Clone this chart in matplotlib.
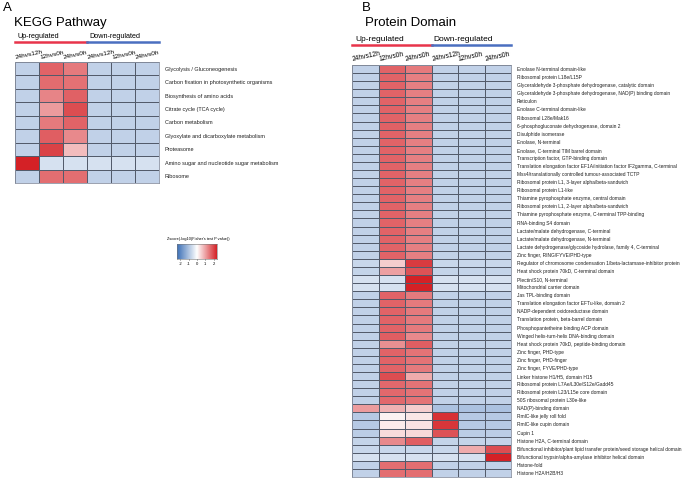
import numpy as np
import matplotlib
matplotlib.use("Agg")
import matplotlib.pyplot as plt
from matplotlib.colors import LinearSegmentedColormap

plt.rcParams['font.family'] = ['Liberation Sans', 'DejaVu Sans']

W, H = 685, 479

columns = ["24hvs12h", "12hvs0h", "24hvs0h", "24hvs12h", "12hvs0h", "24hvs0h"]

kegg_terms = [
    "Glycolysis / Gluconeogenesis",
    "Carbon fixation in photosynthetic organisms",
    "Biosynthesis of amino acids",
    "Citrate cycle (TCA cycle)",
    "Carbon metabolism",
    "Glyoxylate and dicarboxylate metabolism",
    "Proteasome",
    "Amino sugar and nucleotide sugar metabolism",
    "Ribosome",
]
kegg_z = [
    [-0.64, 1.40, 1.20, -0.64, -0.64, -0.64],
    [-0.64, 1.32, 1.28, -0.64, -0.64, -0.64],
    [-0.64, 1.10, 1.42, -0.64, -0.64, -0.64],
    [-0.64, 0.90, 1.60, -0.64, -0.64, -0.64],
    [-0.64, 1.20, 1.40, -0.64, -0.64, -0.64],
    [-0.64, 1.45, 1.05, -0.64, -0.64, -0.64],
    [-0.64, 1.70, 0.60, -0.64, -0.64, -0.64],
    [2.04, -0.41, -0.41, -0.41, -0.41, -0.41],
    [-0.64, 1.30, 1.30, -0.64, -0.64, -0.64],
]

domain_terms = [
    "Enolase N-terminal domain-like",
    "Ribosomal protein L18e/L15P",
    "Glyceraldehyde 3-phosphate dehydrogenase, catalytic domain",
    "Glyceraldehyde 3-phosphate dehydrogenase, NAD(P) binding domain",
    "Reticulon",
    "Enolase C-terminal domain-like",
    "Ribosomal L28e/Mak16",
    "6-phosphogluconate dehydrogenase, domain 2",
    "Disulphide isomerase",
    "Enolase, N-terminal",
    "Enolase, C-terminal TIM barrel domain",
    "Transcription factor, GTP-binding domain",
    "Translation elongation factor EF1A/initiation factor IF2gamma, C-terminal",
    "Mss4/translationally controlled tumour-associated TCTP",
    "Ribosomal protein L1, 3-layer alpha/beta-sandwich",
    "Ribosomal protein L1-like",
    "Thiamine pyrophosphate enzyme, central domain",
    "Ribosomal protein L1, 2-layer alpha/beta-sandwich",
    "Thiamine pyrophosphate enzyme, C-terminal TPP-binding",
    "RNA-binding S4 domain",
    "Lactate/malate dehydrogenase, C-terminal",
    "Lactate/malate dehydrogenase, N-terminal",
    "Lactate dehydrogenase/glycoside hydrolase, family 4, C-terminal",
    "Zinc finger, RING/FYVE/PHD-type",
    "Regulator of chromosome condensation 1/beta-lactamase-inhibitor protein",
    "Heat shock protein 70kD, C-terminal domain",
    "Plectin/S10, N-terminal",
    "Mitochondrial carrier domain",
    "Jas TPL-binding domain",
    "Translation elongation factor EFTu-like, domain 2",
    "NADP-dependent oxidoreductase domain",
    "Translation protein, beta-barrel domain",
    "Phosphopantetheine binding ACP domain",
    "Winged helix-turn-helix DNA-binding domain",
    "Heat shock protein 70kD, peptide-binding domain",
    "Zinc finger, PHD-type",
    "Zinc finger, PHD-finger",
    "Zinc finger, FYVE/PHD-type",
    "Linker histone H1/H5, domain H15",
    "Ribosomal protein L7Ae/L30e/S12e/Gadd45",
    "Ribosomal protein L23/L15e core domain",
    "50S ribosomal protein L30e-like",
    "NAD(P)-binding domain",
    "RmlC-like jelly roll fold",
    "RmlC-like cupin domain",
    "Cupin 1",
    "Histone H2A, C-terminal domain",
    "Bifunctional inhibitor/plant lipid transfer protein/seed storage helical domain",
    "Bifunctional trypsin/alpha-amylase inhibitor helical domain",
    "Histone-fold",
    "Histone H2A/H2B/H3",
]
domain_z = [
    [-0.64, 1.40, 1.20, -0.64, -0.64, -0.64],
    [-0.64, 1.40, 1.15, -0.64, -0.64, -0.64],
    [-0.64, 1.40, 1.15, -0.64, -0.64, -0.64],
    [-0.64, 1.40, 1.15, -0.64, -0.64, -0.64],
    [-0.64, 1.40, 1.15, -0.64, -0.64, -0.64],
    [-0.64, 1.40, 1.15, -0.64, -0.64, -0.64],
    [-0.64, 1.40, 1.15, -0.64, -0.64, -0.64],
    [-0.64, 1.42, 1.15, -0.64, -0.64, -0.64],
    [-0.64, 1.40, 1.15, -0.64, -0.64, -0.64],
    [-0.64, 1.40, 1.15, -0.64, -0.64, -0.64],
    [-0.64, 1.40, 1.15, -0.64, -0.64, -0.64],
    [-0.64, 1.40, 1.15, -0.64, -0.64, -0.64],
    [-0.64, 1.40, 1.15, -0.64, -0.64, -0.64],
    [-0.64, 1.40, 1.15, -0.64, -0.64, -0.64],
    [-0.64, 1.40, 1.15, -0.64, -0.64, -0.64],
    [-0.64, 1.40, 1.15, -0.64, -0.64, -0.64],
    [-0.64, 1.40, 1.15, -0.64, -0.64, -0.64],
    [-0.64, 1.40, 1.15, -0.64, -0.64, -0.64],
    [-0.64, 1.40, 1.15, -0.64, -0.64, -0.64],
    [-0.64, 1.40, 1.15, -0.64, -0.64, -0.64],
    [-0.64, 1.40, 1.15, -0.64, -0.64, -0.64],
    [-0.64, 1.40, 1.15, -0.64, -0.64, -0.64],
    [-0.64, 1.40, 1.15, -0.64, -0.64, -0.64],
    [-0.64, 1.40, 1.15, -0.64, -0.64, -0.64],
    [-0.55, 0.45, 1.75, -0.55, -0.55, -0.55],
    [-0.60, 0.85, 1.55, -0.60, -0.60, -0.60],
    [-0.41, -0.41, 2.04, -0.41, -0.41, -0.41],
    [-0.41, -0.41, 2.04, -0.41, -0.41, -0.41],
    [-0.64, 1.40, 1.20, -0.64, -0.64, -0.64],
    [-0.64, 1.40, 1.20, -0.64, -0.64, -0.64],
    [-0.64, 1.40, 1.20, -0.64, -0.64, -0.64],
    [-0.64, 1.40, 1.20, -0.64, -0.64, -0.64],
    [-0.64, 1.40, 1.20, -0.64, -0.64, -0.64],
    [-0.64, 1.45, 1.05, -0.64, -0.64, -0.64],
    [-0.64, 1.00, 1.45, -0.64, -0.64, -0.64],
    [-0.64, 1.40, 1.25, -0.64, -0.64, -0.64],
    [-0.64, 1.40, 1.25, -0.64, -0.64, -0.64],
    [-0.64, 1.40, 1.20, -0.64, -0.64, -0.64],
    [-0.64, 1.60, 0.75, -0.64, -0.64, -0.64],
    [-0.64, 1.35, 1.25, -0.64, -0.64, -0.64],
    [-0.64, 1.35, 1.25, -0.64, -0.64, -0.64],
    [-0.64, 1.35, 1.25, -0.64, -0.64, -0.64],
    [0.90, 0.70, 0.45, -0.85, -0.85, -0.85],
    [-0.75, 0.12, 0.22, 1.85, -0.75, -0.75],
    [-0.75, 0.18, 0.25, 1.80, -0.75, -0.75],
    [-0.70, 0.32, 0.35, 1.55, -0.70, -0.70],
    [-0.60, 1.05, 1.45, -0.60, -0.60, -0.60],
    [-0.55, -0.55, -0.55, -0.55, 0.75, 1.60],
    [-0.41, -0.41, -0.41, -0.41, -0.41, 2.04],
    [-0.64, 1.30, 1.30, -0.64, -0.64, -0.64],
    [-0.64, 1.30, 1.30, -0.64, -0.64, -0.64],
]

cmap = LinearSegmentedColormap.from_list("bwr_ph", ["#3b6fb6", "#ffffff", "#d42126"])

fig = plt.figure(figsize=(W / 100, H / 100), dpi=100)


def px_axes(x0, y0, x1, y1):
    return fig.add_axes([x0 / W, 1 - y1 / H, (x1 - x0) / W, (y1 - y0) / H])


def heatmap(box, z, terms, row_fs, col_fs, head_fs, title, letter, title_xy, letter_xy):
    x0, y0, x1, y1 = box
    ax = px_axes(x0, y0, x1, y1)
    z = np.array(z)
    ax.pcolormesh(z, cmap=cmap, vmin=-2, vmax=2, edgecolors="#535b6b", linewidth=0.45)
    ax.set_xlim(0, z.shape[1])
    ax.set_ylim(z.shape[0], 0)
    ax.set_xticks([])
    ax.yaxis.tick_right()
    ax.set_yticks(np.arange(z.shape[0]) + 0.5)
    ax.set_yticklabels(terms, fontsize=row_fs, color="#222222")
    ax.tick_params(axis="y", length=0, pad=4)
    for s in ax.spines.values():
        s.set_color("#8a92a2")
        s.set_linewidth(0.6)
    # column labels, slightly tilted
    for i, c in enumerate(columns):
        ax.annotate(c, xy=(i + 0.05, 0), xytext=(0, 1.8), textcoords="offset points",
                    fontsize=col_fs, rotation=12, ha="left", va="bottom",
                    rotation_mode="anchor")
    # group header
    cw = (x1 - x0) / 6
    lx0, lx1 = x0 / W, x1 / W
    mid = (x0 + 3 * cw) / W
    ly = 1 - (y0 - 20) / H
    fig.add_artist(plt.Line2D([lx0, mid], [ly, ly], color="#e8344a", lw=1.8))
    fig.add_artist(plt.Line2D([mid, lx1], [ly, ly], color="#4a6fc0", lw=1.8))
    fig.text(lx0 + 3 / W, ly + 2.5 / H, "Up-regulated", fontsize=head_fs, va="bottom")
    fig.text(mid + 2 / W, ly + 2.5 / H, "Down-regulated", fontsize=head_fs, va="bottom")
    fig.text(title_xy[0] / W, 1 - title_xy[1] / H, title, fontsize=9.5, va="center")
    fig.text(letter_xy[0] / W, 1 - letter_xy[1] / H, letter, fontsize=9.5, va="center")
    return ax


heatmap((15, 62, 159, 183), kegg_z, kegg_terms, 4.0, 4.6, 5.2,
        "KEGG Pathway", "A", (14, 23), (3, 8))
heatmap((352, 65, 511, 477), domain_z, domain_terms, 3.5, 4.8, 6.0,
        "Protein Domain", "B", (365, 23), (362, 8))

# colour key
cax = px_axes(177, 244, 217, 259)
grad = np.linspace(-2, 2, 256).reshape(1, -1)
cax.imshow(grad, aspect="auto", cmap=cmap, vmin=-2, vmax=2, extent=[-2.4, 2.4, 0, 1])
cax.set_xlim(-2.4, 2.4)
cax.set_yticks([])
cax.set_xticks([-2, -1, 0, 1, 2])
cax.set_xticklabels(["-2", "-1", "0", "1", "2"], fontsize=3)
cax.tick_params(axis="x", length=1, width=0.4, pad=1)
for s in cax.spines.values():
    s.set_linewidth(0.4)
    s.set_color("#777777")
fig.text(198 / W, 1 - 239 / H, "Zscore(-log10(Fisher's test P value))", fontsize=2.8,
         ha="center", va="center")

fig.savefig("out.png", dpi=100)
